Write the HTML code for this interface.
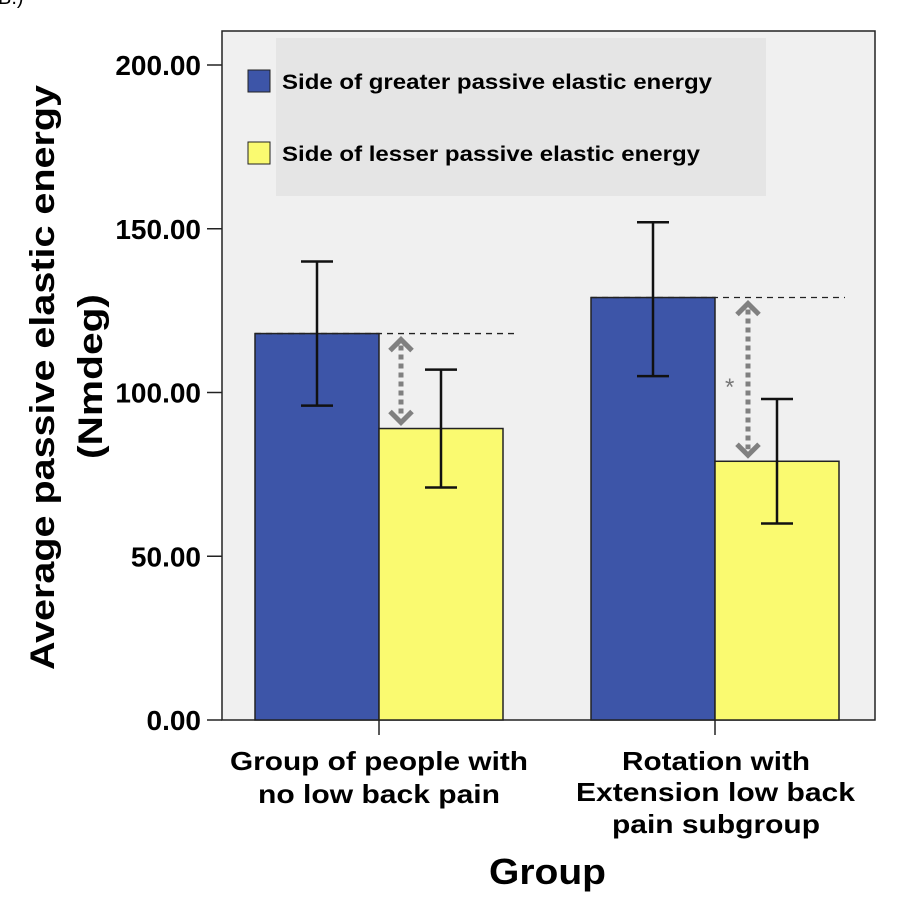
<!DOCTYPE html>
<html><head><meta charset="utf-8"><style>
html,body{margin:0;padding:0;background:#fff;width:905px;height:909px;overflow:hidden}
svg text{font-family:"Liberation Sans",Arial,sans-serif}
</style></head><body>
<svg id="chart" width="905" height="909" viewBox="0 0 905 909">
<text x="-2" y="4" font-family="Liberation Serif" font-size="20">B.)</text>
<rect x="222" y="31" width="653" height="689" fill="#f0f0f0" stroke="#222" stroke-width="1.5"/>
<rect x="276" y="38" width="490" height="158" fill="#e5e5e5"/>
<rect x="248" y="70" width="22" height="22" fill="#3d55a8" stroke="#222"/>
<text x="282" y="89" font-size="21" font-weight="bold" textLength="430" lengthAdjust="spacingAndGlyphs">Side of greater passive elastic energy</text>
<rect x="248" y="142" width="22" height="22" fill="#fafa70" stroke="#222"/>
<text x="282" y="161" font-size="21" font-weight="bold" textLength="418" lengthAdjust="spacingAndGlyphs">Side of lesser passive elastic energy</text>
<g id="axis"></g><g id="bars"></g>
<g font-size="26" font-weight="bold">
<text x="230" y="770" textLength="298" lengthAdjust="spacingAndGlyphs">Group of people with</text>
<text x="258" y="803" textLength="242" lengthAdjust="spacingAndGlyphs">no low back pain</text></g>
<g font-size="26" font-weight="bold">
<text x="622" y="770" textLength="188" lengthAdjust="spacingAndGlyphs">Rotation with</text>
<text x="576" y="801" textLength="279" lengthAdjust="spacingAndGlyphs">Extension low back</text>
<text x="612" y="833" textLength="208" lengthAdjust="spacingAndGlyphs">pain subgroup</text></g>
<text x="489" y="884" font-size="36" font-weight="bold" textLength="117" lengthAdjust="spacingAndGlyphs">Group</text>
<g font-size="34" font-weight="bold">
<text transform="translate(54,670) rotate(-90)" textLength="585" lengthAdjust="spacingAndGlyphs">Average passive elastic energy</text>
<text transform="translate(102,459) rotate(-90)" textLength="165" lengthAdjust="spacingAndGlyphs">(Nmdeg)</text></g>
<text x="725" y="395" font-size="24" fill="#777">*</text>
</svg>
<script>
const categories=["Group of people with no low back pain","Rotation with Extension low back pain subgroup"];
const greaterValues=[118,129];
const greaterLow=[96,105];
const greaterHigh=[140,152];
const lesserValues=[89,79];
const lesserLow=[71,60];
const lesserHigh=[107,98];
const yTicks=[0,50,100,150,200];
const yTickLabels=["0.00","50.00","100.00","150.00","200.00"];
const NS="http://www.w3.org/2000/svg";
const y=v=>720-v*3.275;
const groupX=i=>379+i*336;
function mk(tag,attrs,parent){const e=document.createElementNS(NS,tag);for(const k in attrs)e.setAttribute(k,attrs[k]);parent.appendChild(e);return e;}
const ax=document.getElementById('axis'),bars=document.getElementById('bars');
yTicks.forEach((t,i)=>{
 const l=mk('line',{x1:207,x2:222,y1:y(t),y2:y(t),stroke:'#222','stroke-width':1.5},ax);
 
 
 const tx=mk('text',{x:201,y:y(t)+10,'text-anchor':'end','font-size':28,'font-weight':'bold'},ax);
 tx.textContent=yTickLabels[i];
 
 
});
categories.forEach((c,i)=>{
 const cx=groupX(i);
 const tk=mk('line',{x1:cx,x2:cx,y1:720,y2:735,stroke:'#222','stroke-width':1.5},ax);
 
 
 [[greaterValues,greaterLow,greaterHigh,'#3d55a8',cx-124,'greater'],[lesserValues,lesserLow,lesserHigh,'#fafa70',cx,'lesser']].forEach(s=>{
  const v=s[0][i];
  const r=mk('rect',{x:s[4],y:y(v),width:124,height:720-y(v),fill:s[3],stroke:'#222','stroke-width':1.5},bars);
  
  
  const mx=s[4]+62;
  const g=mk('g',{stroke:'#111','stroke-width':2.5},bars);
  
  
  mk('line',{x1:mx,x2:mx,y1:y(s[1][i]),y2:y(s[2][i])},g);
  mk('line',{x1:mx-16,x2:mx+16,y1:y(s[1][i]),y2:y(s[1][i])},g);
  mk('line',{x1:mx-16,x2:mx+16,y1:y(s[2][i]),y2:y(s[2][i])},g);
 });
 const gy=y(greaterValues[i]),ly=y(lesserValues[i]);
 const d=mk('line',{x1:cx-124,x2:cx+(i?130:138),y1:gy,y2:gy,stroke:'#222','stroke-width':1.3,'stroke-dasharray':'6,5'},bars);
 
 
 const axx=cx+(i?33:22);
 const ar=mk('g',{stroke:'#808080','stroke-width':5,fill:'none'},bars);
 
 
 mk('line',{x1:axx,x2:axx,y1:gy+12,y2:ly-12,'stroke-dasharray':'5,4'},ar);
 mk('polyline',{points:`${axx-11},${gy+17} ${axx},${gy+6} ${axx+11},${gy+17}`},ar);
 mk('polyline',{points:`${axx-11},${ly-17} ${axx},${ly-6} ${axx+11},${ly-17}`},ar);
});
</script>
</body></html>
